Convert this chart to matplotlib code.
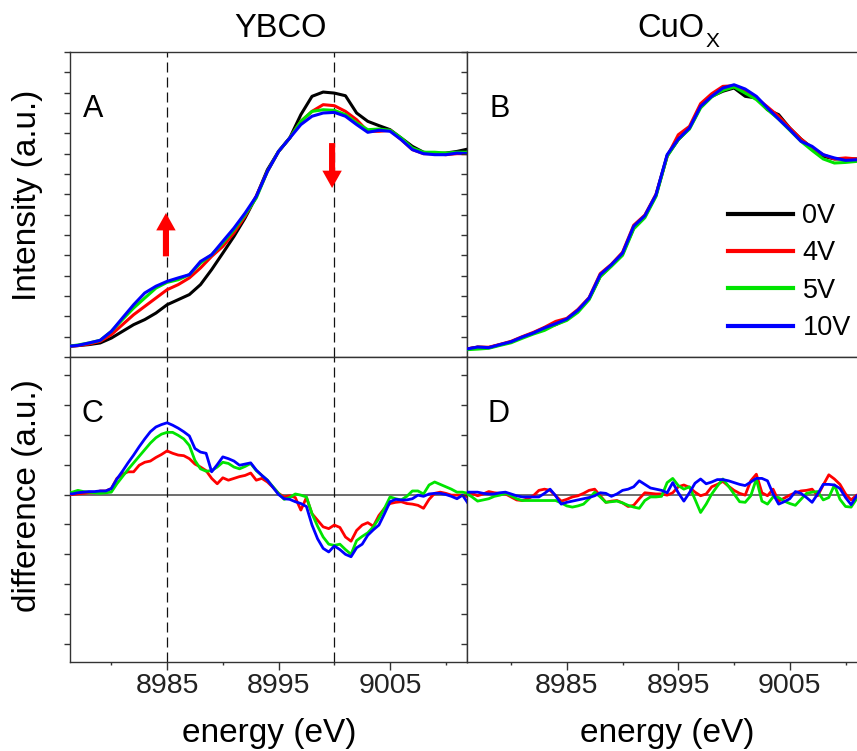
import numpy as np
import matplotlib
matplotlib.use('Agg')
import matplotlib.pyplot as plt
from matplotlib.patches import FancyArrowPatch
from matplotlib.ticker import MultipleLocator, FixedLocator, NullFormatter

plt.rcParams['font.family'] = ['Liberation Sans', 'DejaVu Sans']

# energy grids (eV)
energy = np.arange(8976, 9012.5, 1.0)       # XANES spectra
energy_fine = np.arange(8976, 9012.25, 0.5)  # difference spectra

labels = ['0V', '4V', '5V', '10V']
colors = ['#000000', '#ff0000', '#00e400', '#0000ff']

# (A) YBCO normalised intensity
ybco_0v = [0.052, 0.056, 0.061, 0.069, 0.093, 0.126, 0.159, 0.184, 0.216, 0.257,
           0.282, 0.307, 0.356, 0.430, 0.511, 0.593, 0.684, 0.790, 0.921, 1.011,
           1.077, 1.192, 1.282, 1.303, 1.298, 1.285, 1.200, 1.159, 1.138, 1.118,
           1.077, 1.036, 1.007, 1.000, 1.003, 1.011, 1.023]
ybco_4v = [0.052, 0.056, 0.064, 0.077, 0.110, 0.159, 0.208, 0.249, 0.290, 0.331,
           0.356, 0.389, 0.438, 0.495, 0.544, 0.610, 0.692, 0.790, 0.913, 1.011,
           1.077, 1.159, 1.208, 1.241, 1.236, 1.208, 1.167, 1.110, 1.110, 1.115,
           1.069, 1.020, 1.000, 1.000, 0.995, 1.000, 1.000]
ybco_5v = [0.052, 0.059, 0.069, 0.082, 0.126, 0.184, 0.241, 0.290, 0.339, 0.367,
           0.380, 0.405, 0.462, 0.503, 0.561, 0.626, 0.700, 0.782, 0.913, 1.011,
           1.077, 1.159, 1.208, 1.216, 1.213, 1.192, 1.151, 1.118, 1.121, 1.115,
           1.077, 1.028, 1.007, 1.007, 1.003, 1.007, 1.007]
ybco_10v = [0.052, 0.057, 0.069, 0.082, 0.126, 0.192, 0.257, 0.315, 0.348, 0.372,
            0.389, 0.405, 0.470, 0.503, 0.569, 0.634, 0.708, 0.790, 0.913, 1.011,
            1.077, 1.143, 1.184, 1.200, 1.203, 1.184, 1.143, 1.105, 1.115, 1.110,
            1.069, 1.020, 1.000, 0.995, 0.995, 1.003, 1.000]

# (B) CuOx normalised intensity
cuox_0v = [0.039, 0.048, 0.046, 0.060, 0.074, 0.097, 0.118, 0.143, 0.159, 0.185,
           0.226, 0.286, 0.397, 0.451, 0.507, 0.634, 0.692, 0.795, 0.990, 1.069,
           1.126, 1.230, 1.282, 1.307, 1.323, 1.282, 1.274, 1.216, 1.192, 1.126,
           1.072, 1.028, 0.987, 0.974, 0.974, 0.974, 0.974]
cuox_4v = [0.039, 0.049, 0.048, 0.062, 0.077, 0.100, 0.121, 0.146, 0.175, 0.190,
           0.234, 0.292, 0.410, 0.456, 0.515, 0.648, 0.698, 0.800, 0.987, 1.093,
           1.134, 1.246, 1.295, 1.331, 1.334, 1.307, 1.274, 1.230, 1.184, 1.126,
           1.072, 1.028, 0.995, 0.974, 0.979, 0.974, 0.979]
cuox_5v = [0.036, 0.039, 0.043, 0.057, 0.070, 0.092, 0.113, 0.131, 0.159, 0.180,
           0.220, 0.282, 0.395, 0.446, 0.500, 0.630, 0.685, 0.790, 0.987, 1.069,
           1.121, 1.225, 1.279, 1.311, 1.328, 1.298, 1.266, 1.216, 1.170, 1.115,
           1.061, 1.016, 0.974, 0.954, 0.957, 0.962, 0.967]
cuox_10v = [0.039, 0.049, 0.046, 0.061, 0.075, 0.098, 0.118, 0.143, 0.164, 0.187,
            0.230, 0.290, 0.405, 0.454, 0.511, 0.643, 0.695, 0.798, 0.995, 1.072,
            1.126, 1.233, 1.282, 1.323, 1.339, 1.318, 1.282, 1.225, 1.170, 1.118,
            1.061, 1.036, 0.995, 0.979, 0.967, 0.970, 0.974]

# (C) YBCO difference to 0V
ybco_diff_4v = [0.000, 0.000, 0.001, 0.002, 0.003, 0.003, 0.006, 0.006, 0.010, 0.027,
                0.034, 0.038, 0.038, 0.049, 0.054, 0.056, 0.062, 0.067, 0.073, 0.069,
                0.066, 0.065, 0.060, 0.051, 0.046, 0.040, 0.027, 0.018, 0.028, 0.024,
                0.027, 0.030, 0.032, 0.036, 0.024, 0.027, 0.021, 0.012, 0.002, -0.004,
                -0.002, -0.005, -0.026, -0.005, -0.032, -0.043, -0.054, -0.057, -0.051, -0.055,
                -0.071, -0.078, -0.060, -0.051, -0.047, -0.053, -0.035, -0.023, -0.015, -0.013,
                -0.012, -0.015, -0.016, -0.018, -0.023, -0.008, 0.002, 0.004, 0.002, -0.001,
                -0.001, -0.001, -0.004]
ybco_diff_5v = [0.001, 0.004, 0.007, 0.005, 0.004, 0.003, 0.002, 0.003, 0.004, 0.018,
                0.030, 0.042, 0.053, 0.064, 0.075, 0.086, 0.095, 0.101, 0.104, 0.104,
                0.099, 0.093, 0.082, 0.057, 0.043, 0.039, 0.040, 0.046, 0.054, 0.052,
                0.046, 0.043, 0.047, 0.052, 0.040, 0.032, 0.024, 0.013, 0.002, -0.008,
                -0.005, 0.001, -0.001, -0.004, -0.032, -0.053, -0.071, -0.083, -0.085, -0.083,
                -0.092, -0.100, -0.077, -0.070, -0.064, -0.054, -0.040, -0.023, -0.004, -0.007,
                -0.009, -0.003, 0.006, 0.006, 0.001, 0.016, 0.021, 0.017, 0.013, 0.009,
                0.004, 0.004, 0.002]
ybco_diff_10v = [0.002, 0.001, 0.003, 0.004, 0.005, 0.005, 0.006, 0.006, 0.010, 0.026,
                 0.039, 0.053, 0.066, 0.080, 0.093, 0.105, 0.113, 0.117, 0.120, 0.116,
                 0.111, 0.105, 0.098, 0.077, 0.071, 0.069, 0.038, 0.050, 0.063, 0.060,
                 0.056, 0.049, 0.051, 0.053, 0.041, 0.032, 0.024, 0.012, 0.000, -0.007,
                 -0.008, -0.012, -0.015, -0.020, -0.051, -0.074, -0.090, -0.096, -0.086, -0.092,
                 -0.100, -0.104, -0.089, -0.083, -0.068, -0.059, -0.051, -0.032, -0.012, -0.008,
                 -0.009, -0.009, -0.007, -0.001, -0.003, 0.001, 0.002, 0.002, 0.000, -0.003,
                 -0.007, -0.001, -0.015]

# (D) CuOx difference to 0V
cuox_diff_4v = [0.004, 0.002, -0.002, 0.001, 0.005, 0.003, 0.002, 0.001, -0.004, -0.009,
                -0.010, -0.007, -0.002, 0.007, 0.009, 0.007, -0.002, -0.011, -0.008, -0.004,
                -0.002, 0.002, 0.007, 0.009, -0.002, -0.013, -0.011, -0.010, -0.014, -0.020,
                -0.018, -0.007, 0.003, 0.002, 0.001, 0.001, -0.001, 0.003, 0.013, 0.016,
                0.012, 0.004, -0.002, 0.001, 0.013, 0.017, 0.022, 0.014, 0.007, 0.002,
                -0.001, 0.023, 0.034, 0.003, -0.002, 0.009, -0.011, -0.006, -0.001, 0.003,
                0.006, 0.007, 0.009, -0.002, 0.016, 0.033, 0.026, 0.017, 0.001, -0.009,
                -0.001, 0.002, 0.002]
cuox_diff_5v = [0.002, -0.004, -0.011, -0.009, -0.007, -0.003, -0.001, 0.002, -0.002, -0.007,
                -0.010, -0.010, -0.010, -0.010, -0.010, -0.010, -0.010, -0.014, -0.019, -0.021,
                -0.019, -0.016, -0.007, 0.004, -0.004, -0.013, -0.012, -0.011, -0.014, -0.018,
                -0.021, -0.023, -0.010, -0.004, -0.004, -0.003, 0.020, 0.027, 0.015, 0.009,
                0.013, -0.008, -0.030, -0.016, 0.001, 0.014, 0.026, 0.014, 0.001, -0.012,
                -0.013, -0.002, 0.026, -0.011, -0.016, -0.004, -0.005, -0.011, -0.015, -0.018,
                -0.008, 0.002, 0.004, 0.005, -0.009, -0.005, 0.016, -0.008, -0.020, -0.021,
                -0.007, -0.004, -0.004]
cuox_diff_10v = [0.004, 0.004, 0.004, 0.002, 0.001, 0.001, 0.003, 0.004, 0.001, -0.002,
                 -0.004, -0.004, -0.004, -0.004, 0.002, 0.009, -0.002, -0.016, -0.013, -0.011,
                 -0.009, -0.007, -0.005, -0.002, 0.003, 0.002, -0.003, 0.001, 0.007, 0.009,
                 0.013, 0.023, 0.017, 0.011, 0.009, 0.007, 0.003, 0.020, 0.003, -0.011,
                 0.003, 0.019, 0.026, 0.018, 0.021, 0.025, 0.025, 0.023, 0.020, 0.017,
                 0.015, 0.021, 0.027, 0.027, 0.023, 0.001, -0.016, -0.012, -0.007, 0.005,
                 0.002, -0.005, -0.013, 0.001, 0.017, 0.017, 0.016, 0.010, -0.005, -0.017,
                 -0.002, 0.003, 0.003]

marker_energies = [8985, 9000]
# red arrows in panel A: (energy, start, end)
arrow_up = (8984.9, 0.495, 0.708)
arrow_down = (8999.8, 1.052, 0.831)

W, H = 857, 751


def px_box(x0, y0, x1, y1):
    return [x0 / W, 1 - y1 / H, (x1 - x0) / W, (y1 - y0) / H]


def style_axis(ax, top_row):
    for sp in ax.spines.values():
        sp.set_color('#333333')
        sp.set_linewidth(1.0)
    ax.tick_params(which='both', direction='out', color='#333333', width=1.0,
                   labelsize=20.5, labelcolor='#222222', top=False, right=False)
    if top_row:
        ax.set_ylim(0, 1.5)
        ax.yaxis.set_major_locator(MultipleLocator(0.1))
        ax.xaxis.set_major_locator(MultipleLocator(5))
        ax.xaxis.set_major_formatter(NullFormatter())
        ax.tick_params(axis='x', length=4)
        ax.tick_params(axis='y', length=4.5)
    else:
        ax.set_ylim(-0.28, 0.23)
        ax.yaxis.set_major_locator(MultipleLocator(0.05))
        ax.xaxis.set_major_locator(FixedLocator([8985, 8995, 9005]))
        ax.xaxis.set_minor_locator(FixedLocator([8980, 8990, 9000, 9010]))
        ax.tick_params(axis='x', which='major', length=5.5, pad=2.5)
        ax.tick_params(axis='x', which='minor', length=2.5)
        ax.tick_params(axis='y', length=4.5)
    ax.yaxis.set_major_formatter(NullFormatter())


def main():
    fig = plt.figure(figsize=(W / 100, H / 100), dpi=100)
    ax_a = fig.add_axes(px_box(69.5, 52, 467, 357))
    ax_b = fig.add_axes(px_box(467, 52, 864.5, 357))
    ax_c = fig.add_axes(px_box(69.5, 357, 467, 662))
    ax_d = fig.add_axes(px_box(467, 357, 864.5, 662))

    ybco = [ybco_0v, ybco_4v, ybco_5v, ybco_10v]
    cuox = [cuox_0v, cuox_4v, cuox_5v, cuox_10v]
    ybco_diff = [ybco_diff_4v, ybco_diff_5v, ybco_diff_10v]
    cuox_diff = [cuox_diff_4v, cuox_diff_5v, cuox_diff_10v]

    for ys, c, lab in zip(ybco, colors, labels):
        ax_a.plot(energy, ys, color=c, lw=2.2, label=lab, zorder=3)
    for ys, c, lab in zip(cuox, colors, labels):
        ax_b.plot(energy, ys, color=c, lw=2.2, label=lab, zorder=3)
    for ys, c in zip(ybco_diff, colors[1:]):
        ax_c.plot(energy_fine, ys, color=c, lw=2.0, zorder=3)
    for ys, c in zip(cuox_diff, colors[1:]):
        ax_d.plot(energy_fine, ys, color=c, lw=2.0, zorder=3)

    for ax in (ax_c, ax_d):
        ax.axhline(0, color='#555555', lw=1.2, zorder=2)

    for ax in (ax_a, ax_c):
        for e in marker_energies:
            ax.axvline(e, color='#111111', lw=0.9, ls=(0, (8, 4)), zorder=2)

    for ex, y0, y1 in (arrow_up, arrow_down):
        arr = FancyArrowPatch((ex, y0), (ex, y1),
                              arrowstyle='simple,head_length=12.5,head_width=14,tail_width=4.4',
                              mutation_scale=1, color='#ff0000', lw=0,
                              shrinkA=0, shrinkB=0, zorder=4)
        ax_a.add_patch(arr)

    for ax in (ax_a, ax_c):
        ax.set_xlim(8976.25, 9011.9)
    for ax in (ax_b, ax_d):
        ax.set_xlim(8976.05, 9011.7)

    style_axis(ax_a, True)
    style_axis(ax_b, True)
    style_axis(ax_c, False)
    style_axis(ax_d, False)

    ax_a.text(0.033, 0.787, 'A', transform=ax_a.transAxes, fontsize=22)
    ax_b.text(0.056, 0.787, 'B', transform=ax_b.transAxes, fontsize=22)
    ax_c.text(0.031, 0.787, 'C', transform=ax_c.transAxes, fontsize=22)
    ax_d.text(0.052, 0.787, 'D', transform=ax_d.transAxes, fontsize=22)

    leg = ax_b.legend(loc='upper left', bbox_to_anchor=(728 / W, 1 - 203 / H),
                      bbox_transform=fig.transFigure, frameon=False, fontsize=19.5,
                      handlelength=2.4, handletextpad=0.35, labelspacing=0.42,
                      borderpad=0, borderaxespad=0)
    for line in leg.get_lines():
        line.set_linewidth(3.0)

    fig.text(280 / W, 1 - 37 / H, 'YBCO', ha='center', va='baseline', fontsize=23.5)
    # CuO with a lowered subscript X
    fig.text(637 / W, 1 - 37 / H, 'CuO', ha='left', va='baseline', fontsize=23.5)
    fig.text(706 / W, 1 - 47 / H, 'X', ha='left', va='baseline', fontsize=15)
    fig.text(28 / W, 1 - 195 / H, 'Intensity (a.u.)', rotation=90,
             ha='center', va='center', fontsize=24)
    fig.text(28 / W, 1 - 496 / H, 'difference (a.u.)', rotation=90,
             ha='center', va='center', fontsize=24)
    fig.text(269 / W, 1 - 742 / H, 'energy (eV)', ha='center', va='baseline', fontsize=24)
    fig.text(667 / W, 1 - 742 / H, 'energy (eV)', ha='center', va='baseline', fontsize=24)

    fig.savefig('out.png', dpi=100)


if __name__ == '__main__':
    main()
